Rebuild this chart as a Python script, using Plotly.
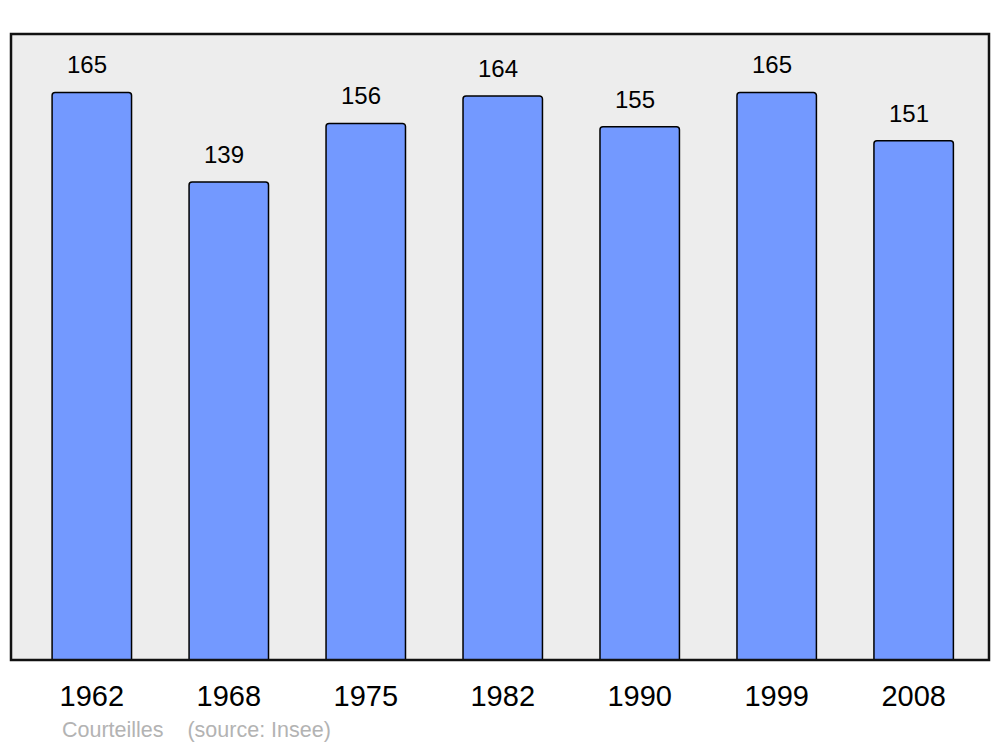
import plotly.graph_objects as go

years = ["1962", "1968", "1975", "1982", "1990", "1999", "2008"]
population = [165, 139, 156, 164, 155, 165, 151]
commune = "Courteilles"
source = "(source: Insee)"

# page body has an 8px margin; figure sized/offset to compensate
W, H = 984, 739
L, R, T, B = 3, 3, 26, 87

fig = go.Figure()
fig.add_trace(go.Bar(
    x=list(range(len(years))), y=population,
    marker=dict(color="#7399FF", line=dict(color="#000000", width=1.5)),
    width=0.58,
    customdata=years,
    hovertemplate="%{customdata}: %{y}<extra></extra>",
))

for i, v in enumerate(population):
    fig.add_annotation(x=i, y=v, text=str(v), showarrow=False,
                       yanchor="bottom", yshift=12, xshift=-5,
                       font=dict(family="Liberation Sans, Arial", size=24, color="#000000"))

plot_w = W - L - R
plot_h = H - T - B
fig.add_annotation(xref="paper", yref="paper", x=(60 - 11) / plot_w, y=-(730 - 660) / plot_h,
                   xanchor="left", yanchor="middle", showarrow=False,
                   text=commune + "\u00a0\u00a0\u00a0\u00a0" + source,
                   font=dict(family="Liberation Sans, Arial", size=21.5, color="#b3b3b3"))

fig.add_shape(type="rect", xref="paper", yref="paper", x0=0, y0=0, x1=1, y1=1,
              line=dict(color="#111111", width=2.5), layer="above")

fig.update_layout(
    width=W, height=H,
    margin=dict(l=L, r=R, t=T, b=B),
    paper_bgcolor="#ffffff", plot_bgcolor="#ededed",
    barcornerradius=3,
    showlegend=False,
    font=dict(family="Liberation Sans, Arial", color="#000000"),
    xaxis=dict(range=[-0.59, 6.55], showgrid=False, zeroline=False,
               tickmode="array", tickvals=list(range(len(years))), ticktext=years,
               showline=False, ticks="", tickfont=dict(size=29), ticklabelstandoff=16),
    yaxis=dict(range=[0, 182], showgrid=False, zeroline=False, showticklabels=False,
               showline=False, ticks=""),
)

fig.write_html("out.html")
